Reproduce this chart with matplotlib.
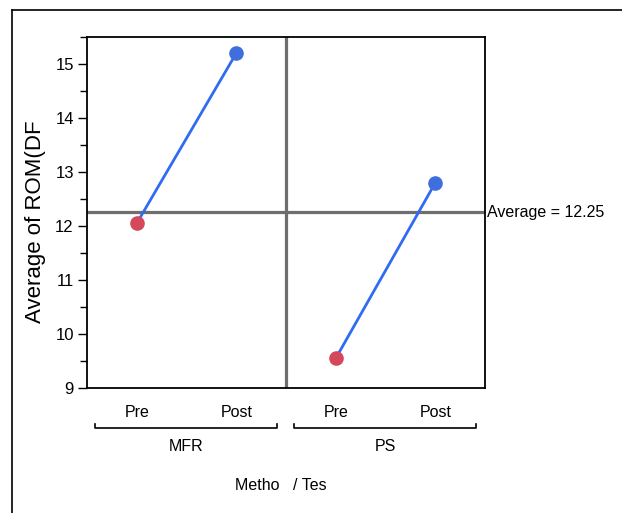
import matplotlib.pyplot as plt
from matplotlib.lines import Line2D

# Data
groups = ['MFR', 'PS']
tests = ['Pre', 'Post']
mfr_means = [12.05, 15.2]
ps_means = [9.55, 12.8]
overall_avg = 12.25

narrow = ['Liberation Sans Narrow', 'Liberation Sans', 'DejaVu Sans']
regular = ['Liberation Sans', 'DejaVu Sans']

fig = plt.figure(figsize=(6.22, 5.13), dpi=100)
ax = fig.add_axes([0.1399, 0.2437, 0.6399, 0.6842])

# outer frame (top and left sides show)
fig.add_artist(Line2D([12 / 622, 1], [1 - 10 / 513, 1 - 10 / 513], color='black', lw=1.2))
fig.add_artist(Line2D([12 / 622, 12 / 622], [0, 1 - 10 / 513], color='black', lw=1.2))

blue_line = '#2f6cf2'
blue_pt = '#3f6fde'
red_pt = '#d5475b'

all_means = [mfr_means, ps_means]
for gi, means in enumerate(all_means):
    xs = [gi * 2 + i for i in range(len(tests))]
    ax.plot(xs, means, color=blue_line, lw=2, zorder=3)
    ax.plot(xs[0], means[0], 'o', color=red_pt, ms=9.5, zorder=4)
    ax.plot(xs[1], means[1], 'o', color=blue_pt, ms=9.5, zorder=4)

# reference lines
ax.axhline(overall_avg, color='#6e6e6e', lw=2.3, zorder=2)
ax.axvline(1.5, color='#6e6e6e', lw=2.3, zorder=2)
ax.text(1.005, overall_avg, 'Average = %.2f' % overall_avg, transform=ax.get_yaxis_transform(),
        ha='left', va='center', fontsize=11.5, family=narrow)

ax.set_xlim(-0.5, 3.5)
ax.set_ylim(9, 15.5)
ax.set_yticks(range(9, 16))
ax.set_yticks([9.5 + i for i in range(7)], minor=True)
ax.tick_params(axis='y', which='major', length=6.5, width=1, labelsize=12, pad=3)
ax.tick_params(axis='y', which='minor', length=5, width=1)
for lab in ax.get_yticklabels():
    lab.set_family(narrow)

ax.set_xticks(range(4))
ax.set_xticklabels(tests * 2, family=narrow, fontsize=11.5)
ax.tick_params(axis='x', length=0, pad=12)

for s in ax.spines.values():
    s.set_linewidth(1.3)

ax.set_ylabel('Average of ROM(DF', fontsize=16, family=regular)
ax.yaxis.set_label_coords(-0.102, 0.475)

# group brackets below the test labels
tr = ax.get_xaxis_transform()
by = -0.114
for gi, g in enumerate(groups):
    x0 = gi * 2 - 0.42
    x1 = gi * 2 + 1.41
    ax.plot([x0, x0, x1, x1], [by + 0.01, by, by, by + 0.01], color='black', lw=1.2,
            transform=tr, clip_on=False)
    ax.text(gi * 2 + 0.5, -0.168, g, transform=tr, ha='center', va='center',
            fontsize=11.5, family=narrow)

ax.text(1.45, -0.279, 'Metho   / Tes', transform=tr, ha='center', va='center',
        fontsize=11.5, family=narrow)

fig.savefig('out.png', dpi=100)
